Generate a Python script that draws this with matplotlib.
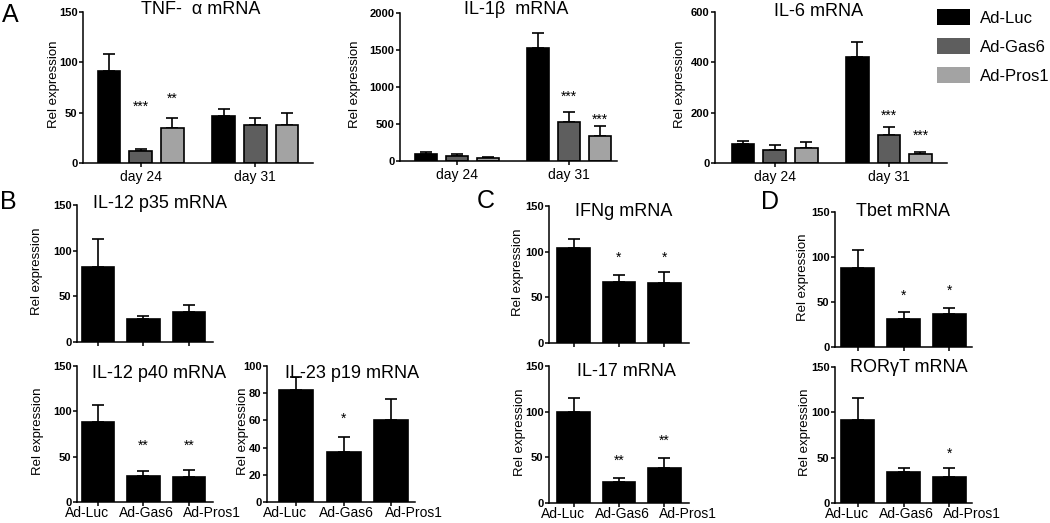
import numpy as np
import matplotlib.pyplot as plt
from matplotlib.patches import Patch

plt.rcParams['font.family'] = ['Liberation Sans', 'DejaVu Sans']

W, H = 1050, 523  # output size in pixels (dpi 100)

## DATA
groups = ['Ad-Luc', 'Ad-Gas6', 'Ad-Pros1']
days = ['day 24', 'day 31']
group_colors = ['#000000', '#5e5e5e', '#a3a3a3']

# panel A: rows = day 24 / day 31, columns = Luc / Gas6 / Pros1
tnf_mean = [[91.5, 11.6, 35.0], [46.3, 37.3, 37.3]]
tnf_err = [[16.5, 1.9, 9.6], [7.2, 7.3, 12.6]]
tnf_stars = [['', '***', '**'], ['', '', '']]
tnf_star_y = [[0, 55.6, 63.6], [0, 0, 0]]

il1b_mean = [[90, 72, 45], [1523, 531, 338]]
il1b_err = [[36, 27, 13], [203, 127, 135]]
il1b_stars = [['', '', ''], ['', '***', '***']]
il1b_star_y = [[0, 0, 0], [0, 869, 563]]

il6_mean = [[76.5, 53, 58], [423, 109.5, 34]]
il6_err = [[11.5, 19.5, 25], [58, 35.5, 11]]
il6_stars = [['', '', ''], ['', '***', '***']]
il6_star_y = [[0, 0, 0], [0, 187, 108]]

# panels B-D: Luc / Gas6 / Pros1
p35_mean = [81.6, 25.6, 33.3]
p35_err = [30.7, 2.6, 7.7]
p35_stars = ['', '', '']
p35_star_y = [0, 0, 0]

p40_mean = [88, 29, 28]
p40_err = [19, 5, 7.5]
p40_stars = ['', '**', '**']
p40_star_y = [0, 62, 62]

p19_mean = [82, 37, 60]
p19_err = [10, 11, 15.5]
p19_stars = ['', '*', '']
p19_star_y = [0, 61, 0]

ifng_mean = [104.5, 66.6, 65.5]
ifng_err = [9.1, 7.7, 12.4]
ifng_stars = ['', '*', '*']
ifng_star_y = [0, 93, 93]

il17_mean = [100, 22.7, 38.5]
il17_err = [15, 4.8, 11]
il17_stars = ['', '**', '**']
il17_star_y = [0, 46, 68]

tbet_mean = [88, 31.4, 36.6]
tbet_err = [19.5, 7, 6.6]
tbet_stars = ['', '*', '*']
tbet_star_y = [0, 56.5, 63]

rorgt_mean = [91.5, 34.4, 28.5]
rorgt_err = [24.5, 4.6, 10.5]
rorgt_stars = ['', '', '*']
rorgt_star_y = [0, 0, 54]

# group labels under the bottom panels are spread wider than the ticks (px)
label_shift = [-11, 3, 23]


## HELPERS
def make_ax(fig, left, right, top, bottom):
    # axes rectangle from pixel edges
    return fig.add_axes([left / W, 1 - bottom / H, (right - left) / W, (bottom - top) / H])


def style_ax(ax, ymax, yticks, label_gap, width_px):
    ax.set_ylim(0, ymax)
    ax.set_yticks(yticks)
    ax.spines['top'].set_visible(False)
    ax.spines['right'].set_visible(False)
    ax.spines['left'].set_linewidth(1.1)
    ax.spines['bottom'].set_linewidth(1.1)
    ax.tick_params(axis='y', labelsize=8, length=3, width=1.1, pad=1)
    ax.tick_params(axis='x', labelsize=10, length=3, width=1.1, pad=2)
    for lab in ax.get_yticklabels():
        lab.set_fontweight('bold')
    ax.set_ylabel('Rel expression', fontsize=9.5, va='center')
    ax.yaxis.set_label_coords(-label_gap / width_px, 0.52)


def bars(ax, x, means, errs, colors, width):
    ax.bar(x, means, width=width, color=colors, edgecolor='black', linewidth=1.2, zorder=2)
    ax.errorbar(x, means, yerr=[np.zeros(len(errs)), errs], fmt='none', ecolor='black',
                elinewidth=1.2, capsize=4.5, capthick=1.2, zorder=1)


def stars(ax, x, labels, ys):
    for xi, s, yi in zip(x, labels, ys):
        if s:
            ax.text(xi, yi, s, ha='center', va='center', fontsize=10)


## FIGURE
fig = plt.figure(figsize=(W / 100, H / 100), dpi=100)

# --- panel A: time course, three groups per day
a_panels = [
    (tnf_mean, tnf_err, tnf_stars, tnf_star_y, 150, [0, 50, 100, 150], (83, 313, 12, 163), (-0.82, 6.44), 29),
    (il1b_mean, il1b_err, il1b_stars, il1b_star_y, 2000, [0, 500, 1000, 1500, 2000], (400, 617, 13, 161), (-0.85, 6.18), 45),
    (il6_mean, il6_err, il6_stars, il6_star_y, 600, [0, 200, 400, 600], (715, 947, 12, 163), (-0.89, 6.46), 35),
]
gap = 3.62
for means, errs, st, sty, ymax, yt, rect, xl, lg in a_panels:
    ax = make_ax(fig, *rect)
    for d in range(len(days)):
        x = np.arange(3) + d * gap
        bars(ax, x, means[d], errs[d], group_colors, 0.72)
        stars(ax, x, st[d], sty[d])
    ax.set_xlim(*xl)
    ax.set_xticks([1, 1 + gap])
    ax.set_xticklabels(days)
    style_ax(ax, ymax, yt, lg, rect[1] - rect[0])

# --- panels B-D: single time point, black bars
b_panels = [
    (p35_mean, p35_err, p35_stars, p35_star_y, 150, [0, 50, 100, 150], (77, 213, 205, 342), (-0.46, 2.53), False, 40),
    (p40_mean, p40_err, p40_stars, p40_star_y, 150, [0, 50, 100, 150], (77, 213, 366, 502), (-0.46, 2.53), True, 39),
    (p19_mean, p19_err, p19_stars, p19_star_y, 100, [0, 20, 40, 60, 80, 100], (267, 415, 366, 502), (-0.62, 2.5), True, 24),
    (ifng_mean, ifng_err, ifng_stars, ifng_star_y, 150, [0, 50, 100, 150], (549, 689, 206, 343), (-0.54, 2.54), False, 31),
    (il17_mean, il17_err, il17_stars, il17_star_y, 150, [0, 50, 100, 150], (549, 689, 366, 503), (-0.54, 2.54), True, 29),
    (tbet_mean, tbet_err, tbet_stars, tbet_star_y, 150, [0, 50, 100, 150], (835, 972, 212, 347), (-0.5, 2.5), False, 32),
    (rorgt_mean, rorgt_err, rorgt_stars, rorgt_star_y, 150, [0, 50, 100, 150], (835, 972, 367, 503), (-0.5, 2.5), True, 30),
]
for means, errs, st, sty, ymax, yt, rect, xl, show_lab, lg in b_panels:
    ax = make_ax(fig, *rect)
    x = np.arange(3)
    bars(ax, x, means, errs, 'black', 0.72)
    stars(ax, x, st, sty)
    ax.set_xlim(*xl)
    ax.set_xticks(x)
    ax.set_xticklabels([])
    if show_lab:
        # labels written by hand so they can sit off the tick centres like the original
        for xi, g, dx in zip(x, groups, label_shift):
            ax.annotate(g, xy=(xi, 0), xycoords=('data', 'axes fraction'),
                        xytext=(dx * 0.72, -11 * 0.72), textcoords='offset points',
                        ha='center', va='center', fontsize=10)
    style_ax(ax, ymax, yt, lg, rect[1] - rect[0])

# titles (pixel centres)
titles = [
    ('TNF-  \u03b1 mRNA', 201, 10), ('IL-1\u03b2  mRNA', 516, 9), ('IL-6 mRNA', 819, 11),
    ('IL-12 p35 mRNA', 160, 203), ('IL-12 p40 mRNA', 159, 374), ('IL-23 p19 mRNA', 352, 374),
    ('IFNg mRNA', 624, 211), ('IL-17 mRNA', 626, 372),
    ('Tbet mRNA', 903, 211), ('ROR\u03b3T mRNA', 909, 367),
]
for t, tx, ty in titles:
    fig.text(tx / W, 1 - ty / H, t, ha='center', va='center', fontsize=13)

# panel letters
for lab, lx, ly in [('A', 10, 15), ('B', 8, 202), ('C', 486, 201), ('D', 770, 202)]:
    fig.text(lx / W, 1 - ly / H, lab, ha='center', va='center', fontsize=18)

# legend
handles = [Patch(facecolor=c, edgecolor='none', label=g) for c, g in zip(group_colors, groups)]
fig.legend(handles=handles, loc='upper left', bbox_to_anchor=(937 / W, 1 - 9 / H), frameon=False,
           fontsize=12, handlelength=2.0, handleheight=1.1, labelspacing=0.75,
           handletextpad=0.55, borderpad=0, borderaxespad=0)

plt.savefig('out.png', dpi=100)
